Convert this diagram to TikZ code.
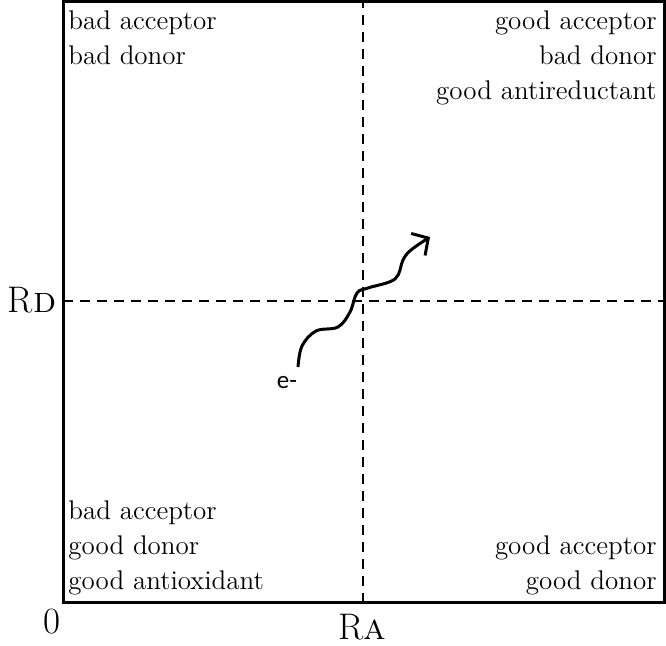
\documentclass[tikz,border=0pt]{standalone}
\usepackage{fontspec}
\newfontfamily\elfont{Carlito}
\usetikzlibrary{arrows.meta}

\begin{document}
\begin{tikzpicture}[x=0.5pt, y=0.5pt,
    lbl/.style={font=\fontsize{13.5}{16}\selectfont, inner sep=0pt},
    axlbl/.style={font=\fontsize{18.5}{20}\selectfont, inner sep=0pt},
    divider/.style={line width=1.3pt, dash pattern=on 5pt off 3.5pt}]
                \useasboundingbox (0,0) rectangle (666,646);
                \coordinate (O) at (63,43);
                \coordinate (P) at (664,644);
                \coordinate (Ma) at (363,43);
                \coordinate (Mb) at (363,644);
                \coordinate (Md) at (63,345);
                \coordinate (Me) at (664,345);

                \draw[divider] (Ma) -- (Mb);
                \draw[divider] (Md) -- (Me);
                \draw[line width=1.5pt] (O) rectangle (P);

                % Axis labels
                \node[axlbl] (zero) at (52,24) {0};
                \node[axlbl] (RA) at (362,19) {R\textsc{a}};
                \node[axlbl] (RD) at (32,346) {R\textsc{d}};

                % Quadrant texts
                \node[lbl, anchor=base west] (tl1) at (68,616) {bad acceptor};
                \node[lbl, anchor=base west] (tl2) at (68,581) {bad donor};
                \node[lbl, anchor=base east] (tr1) at (657,616) {good acceptor};
                \node[lbl, anchor=base east] (tr2) at (657,581) {bad donor};
                \node[lbl, anchor=base east] (tr3) at (657,546) {good antireductant};
                \node[lbl, anchor=base west] (bl1) at (68,126) {bad acceptor};
                \node[lbl, anchor=base west] (bl2) at (68,91) {good donor};
                \node[lbl, anchor=base west] (bl3) at (68,56) {good antioxidant};
                \node[lbl, anchor=base east] (br1) at (657,91) {good acceptor};
                \node[lbl, anchor=base east] (br2) at (657,56) {good donor};

                % Electron path
                \draw[line width=1.5pt, -{Straight Barb[length=6pt, width=13pt]}]
                    plot[smooth, tension=0.6] coordinates {(298,279) (302,300) (316,315) (338,319)
                    (350,334) (357,353) (368,358) (395,367) (403,386) (411,396) (430,409)};
                \node[font=\elfont\fontsize{12.5}{14}\selectfont, inner sep=0pt] (e) at (287,263) {e-};
\end{tikzpicture}
\end{document}
